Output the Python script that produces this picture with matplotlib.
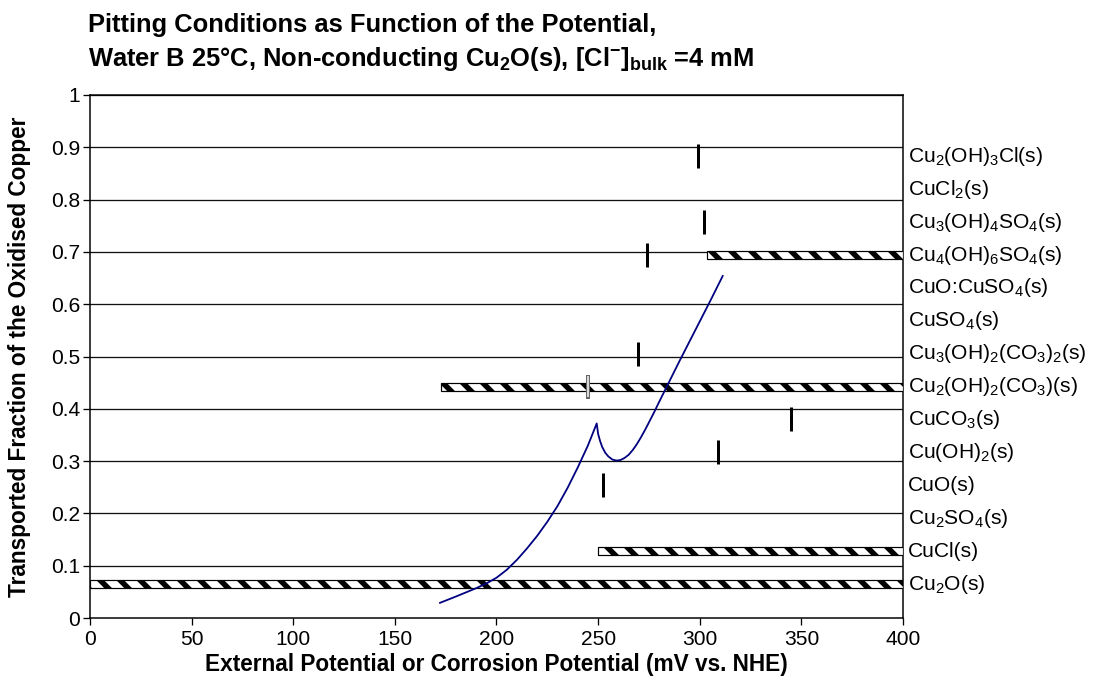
import matplotlib
matplotlib.use('Agg')
import matplotlib.pyplot as plt
import numpy as np
from matplotlib.transforms import blended_transform_factory

W, H, DPI = 1093, 700, 120
def pt(px):
    return px * 72.0 / DPI

plt.rcParams['font.family'] = ['Liberation Sans', 'DejaVu Sans']
plt.rcParams['mathtext.fontset'] = 'custom'
plt.rcParams['mathtext.rm'] = 'Liberation Sans'
plt.rcParams['mathtext.it'] = 'Liberation Sans:italic'
plt.rcParams['mathtext.bf'] = 'Liberation Sans:bold'
plt.rcParams['mathtext.default'] = 'regular'
plt.rcParams['hatch.linewidth'] = pt(5.5)

# ---------------- data ----------------
phase_labels = [
    r'Cu$_2$O(s)', r'CuCl(s)', r'Cu$_2$SO$_4$(s)', r'CuO(s)', r'Cu(OH)$_2$(s)',
    r'CuCO$_3$(s)', r'Cu$_2$(OH)$_2$(CO$_3$)(s)', r'Cu$_3$(OH)$_2$(CO$_3$)$_2$(s)',
    r'CuSO$_4$(s)', r'CuO:CuSO$_4$(s)', r'Cu$_4$(OH)$_6$SO$_4$(s)',
    r'Cu$_3$(OH)$_4$SO$_4$(s)', r'CuCl$_2$(s)', r'Cu$_2$(OH)$_3$Cl(s)',
]
phase_y = [0.065, 0.128, 0.191, 0.254, 0.317, 0.380, 0.442, 0.505,
           0.568, 0.631, 0.694, 0.757, 0.820, 0.883]

# stable-phase ranges (hatched bars): row index, start, end (mV)
bar_rows = [0, 1, 6, 10]
bar_start = [0.0, 250.0, 172.5, 303.7]
bar_end = [400.0, 400.0, 400.0, 400.0]

# precipitation potentials (short vertical markers): row index, potential (mV)
marker_rows = [13, 11, 10, 7, 6, 5, 4, 3]
marker_x = [299.3, 302.1, 274.0, 269.6, 244.9, 344.9, 308.8, 252.2]

# transported fraction curve
curve_x = [172.2, 180.0, 185.0, 190.0, 195.0, 200.0, 205.0, 210.0, 215.0,
           220.0, 225.0, 230.0, 235.0, 240.0, 245.0, 249.3, 250.0, 251.0,
           252.0, 253.5, 255.0, 257.0, 259.0, 261.0, 263.0, 265.0, 267.0,
           269.0, 271.0, 273.0, 275.0, 277.5, 280.0, 285.0, 290.0, 295.0,
           300.0, 305.0, 311.3]
curve_y = [0.029, 0.041, 0.049, 0.057, 0.066, 0.077, 0.092, 0.111, 0.133,
           0.157, 0.184, 0.214, 0.249, 0.288, 0.330, 0.372, 0.352, 0.338,
           0.327, 0.316, 0.309, 0.303, 0.301, 0.302, 0.306, 0.312, 0.321,
           0.332, 0.345, 0.359, 0.374, 0.393, 0.413, 0.452, 0.491, 0.529,
           0.567, 0.605, 0.654]

x_ticks = [0, 50, 100, 150, 200, 250, 300, 350, 400]
y_ticks = [0, 0.1, 0.2, 0.3, 0.4, 0.5, 0.6, 0.7, 0.8, 0.9, 1.0]
y_tick_labels = ['0', '0.1', '0.2', '0.3', '0.4', '0.5', '0.6', '0.7', '0.8', '0.9', '1']

# ---------------- figure ----------------
fig = plt.figure(figsize=(W / DPI, H / DPI), dpi=DPI)
ax = fig.add_axes([90 / W, 1 - 618 / H, (903 - 90) / W, (618 - 95) / H])
ax.set_xlim(0, 400)
ax.set_ylim(0, 1)

for yv in y_ticks[1:]:
    ax.axhline(yv, color='#111111', lw=pt(1.3), zorder=1)

py = np.array(phase_y)
bs = np.array(bar_start)
be = np.array(bar_end)
ax.barh(py[bar_rows], be - bs, left=bs, height=0.016, color='white',
        edgecolor='black', hatch='\\\\', lw=pt(1.2), zorder=3)

bar_rng = {r: (s, e) for r, s, e in zip(bar_rows, bar_start, bar_end)}
for r, xv in zip(marker_rows, marker_x):
    y0, y1 = phase_y[r] - 0.023, phase_y[r] + 0.023
    if r in bar_rng and bar_rng[r][0] <= xv <= bar_rng[r][1]:
        ax.vlines(xv, y0, y1, color='#666666', lw=pt(4.0), zorder=4)
        ax.vlines(xv, y0 + 0.003, y1 - 0.003, color='white', lw=pt(1.5), zorder=5)
    else:
        ax.vlines(xv, y0, y1, color='black', lw=pt(3.0), zorder=4)

ax.plot(curve_x, curve_y, color='#000080', lw=pt(1.8), zorder=6)

ax.set_xticks(x_ticks)
ax.set_yticks(y_ticks)
ax.set_yticklabels(y_tick_labels)
ax.tick_params(axis='both', labelsize=pt(21), length=pt(7), width=pt(1.3),
               color='black', direction='out')
ax.tick_params(axis='x', pad=pt(5))
ax.tick_params(axis='y', pad=pt(3))
for s in ax.spines.values():
    s.set_linewidth(pt(1.5))
    s.set_color('black')

trans = blended_transform_factory(ax.transAxes, ax.transData)
for lab, yv in zip(phase_labels, phase_y):
    ax.text(1.006, yv, lab, transform=trans, ha='left', va='center',
            fontsize=pt(21))

fig.text(496.5 / W, 1 - 665 / H,
         'External Potential or Corrosion Potential (mV vs. NHE)',
         fontsize=pt(22.7), fontweight='bold', ha='center', va='center')
fig.text(20 / W, 1 - 356.5 / H, 'Transported Fraction of the Oxidised Copper',
         fontsize=pt(22.7), fontweight='bold', ha='center', va='center',
         rotation=90)

fig.text(88 / W, 1 - 32 / H, 'Pitting Conditions as Function of the Potential,',
         fontsize=pt(25.5), fontweight='bold', ha='left', va='baseline')
fig.text(88 / W, 1 - 66 / H,
         r'Water B 25°C, Non-conducting Cu$_\mathbf{2}$O(s), [Cl$^{\mathbf{-}}$]$_{\mathbf{bulk}}$ =4 mM',
         fontsize=pt(25.5), fontweight='bold', ha='left', va='baseline')

fig.savefig('out.png', dpi=DPI)
